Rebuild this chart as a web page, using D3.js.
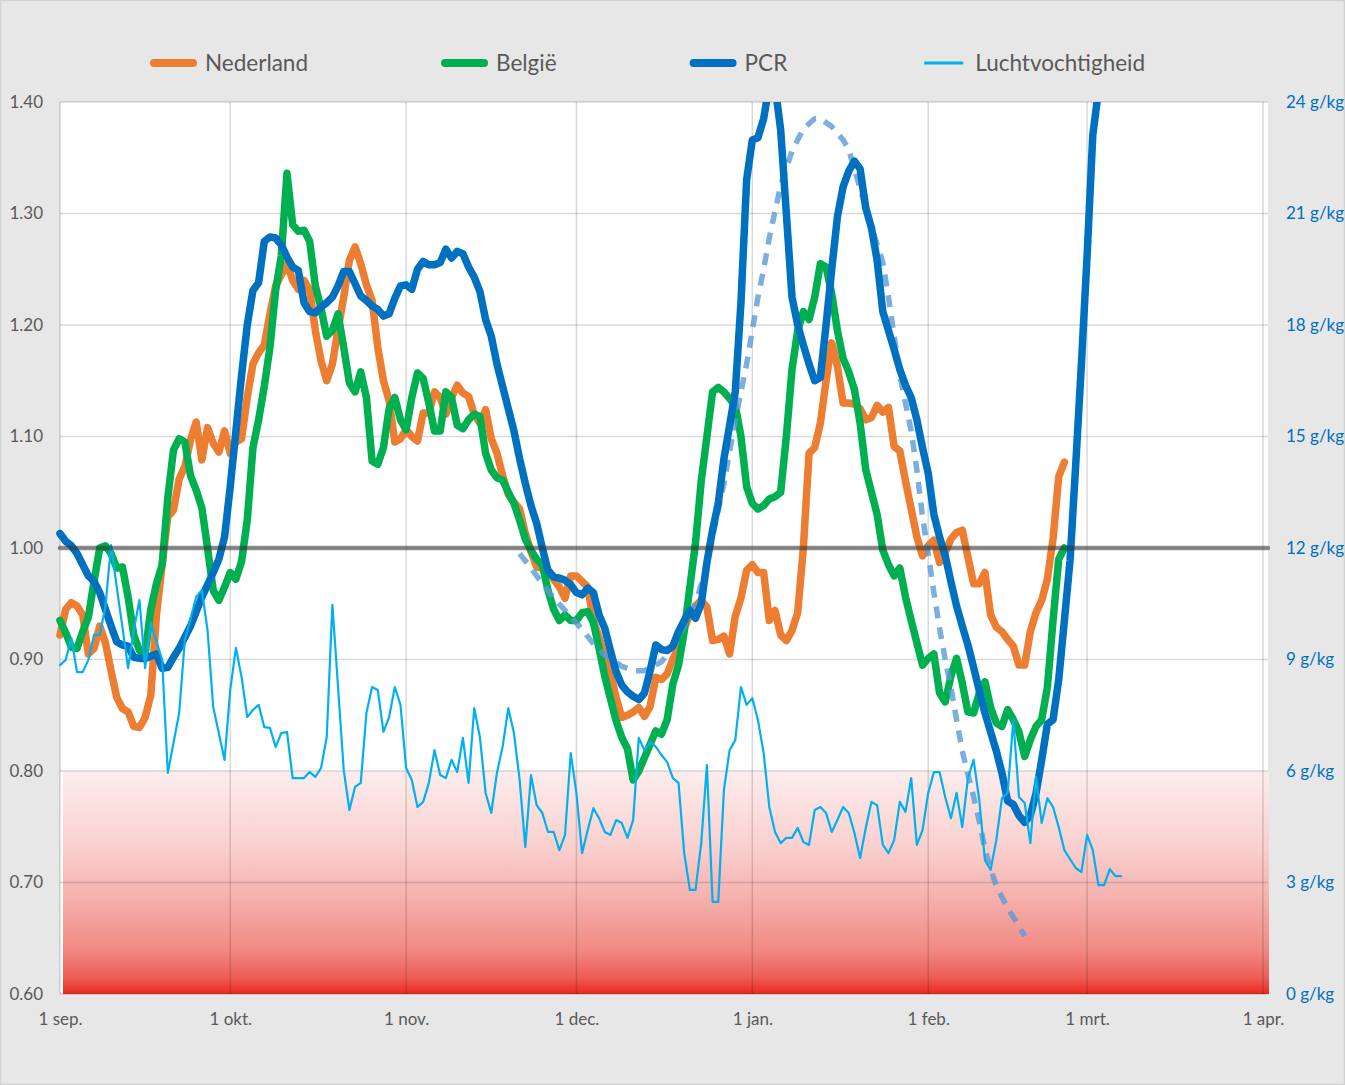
<!DOCTYPE html>
<html lang="nl">
<head>
<meta charset="UTF-8">
<title>Nederland, België, PCR en luchtvochtigheid</title>
<script src="https://d3js.org/d3.v7.min.js"></script>
<style>
  html, body { margin: 0; padding: 0; background: #e7e7e7; }
  body { font-family: Lato, "Open Sans", sans-serif; }
  #chart { width: 1345px; height: 1085px; }
  .tick text { font-family: Lato, "Open Sans", sans-serif; }
</style>
</head>
<body>
<div id="chart"></div>
<script>
// ---- data (day index = days since 1 sep. 2020) ----
const startDate = new Date(Date.UTC(2020, 8, 1));
const endDate = new Date(Date.UTC(2021, 3, 1));
const monthLabels = ["1 sep.", "1 okt.", "1 nov.", "1 dec.", "1 jan.", "1 feb.", "1 mrt.", "1 apr."];
const leftTicks = [0.6, 0.7, 0.8, 0.9, 1.0, 1.1, 1.2, 1.3, 1.4];
const rightTicks = [0, 3, 6, 9, 12, 15, 18, 21, 24];
const refLevel = 1.0;
const redZoneTop = 0.8;

// one value per day, starting 1 sep.
const nederland = [
  0.922, 0.945, 0.951, 0.948, 0.940, 0.905, 0.910, 0.930, 0.915, 0.890,
  0.866, 0.856, 0.853, 0.840, 0.839, 0.848, 0.868, 0.940, 0.985, 1.028,
  1.034, 1.062, 1.073, 1.097, 1.113, 1.079, 1.108, 1.094, 1.086, 1.105,
  1.085, 1.095, 1.098, 1.135, 1.165, 1.175, 1.182, 1.210, 1.235, 1.245,
  1.255, 1.240, 1.232, 1.240, 1.231, 1.195, 1.168, 1.150, 1.165, 1.196,
  1.225, 1.258, 1.270, 1.255, 1.236, 1.222, 1.180, 1.150, 1.132, 1.095,
  1.098, 1.106, 1.100, 1.096, 1.121, 1.121, 1.140, 1.135, 1.120, 1.135,
  1.146, 1.139, 1.136, 1.120, 1.112, 1.124, 1.098, 1.085, 1.065, 1.048,
  1.041, 1.035, 1.013, 0.997, 0.983, 0.982, 0.980, 0.972, 0.965, 0.955,
  0.975, 0.975, 0.970, 0.965, 0.935, 0.920, 0.902, 0.888, 0.866, 0.848,
  0.850, 0.853, 0.857, 0.849, 0.858, 0.884, 0.882, 0.887, 0.900, 0.912,
  0.928, 0.940, 0.948, 0.953, 0.947, 0.917, 0.918, 0.921, 0.905, 0.939,
  0.955, 0.980, 0.985, 0.978, 0.978, 0.935, 0.944, 0.922, 0.917, 0.926,
  0.942, 1.000, 1.085, 1.090, 1.112, 1.150, 1.184, 1.163, 1.130, 1.130,
  1.129, 1.125, 1.115, 1.117, 1.128, 1.122, 1.126, 1.091, 1.087, 1.060,
  1.035, 1.010, 0.993, 1.002, 1.007, 0.987, 0.996, 1.008, 1.014, 1.016,
  0.992, 0.968, 0.968, 0.978, 0.940, 0.929, 0.925, 0.918, 0.912, 0.895,
  0.895, 0.925, 0.942, 0.953, 0.972, 1.008, 1.064, 1.077
];

const belgie = [
  0.935, 0.924, 0.911, 0.910, 0.925, 0.938, 0.970, 1.000, 1.002, 0.995,
  0.982, 0.983, 0.956, 0.922, 0.908, 0.905, 0.945, 0.968, 0.985, 1.045,
  1.088, 1.098, 1.095, 1.065, 1.052, 1.036, 1.000, 0.962, 0.953, 0.965,
  0.978, 0.972, 0.988, 1.025, 1.090, 1.115, 1.145, 1.180, 1.231, 1.262,
  1.336, 1.290, 1.284, 1.285, 1.275, 1.235, 1.215, 1.190, 1.195, 1.210,
  1.180, 1.148, 1.140, 1.158, 1.135, 1.078, 1.075, 1.090, 1.125, 1.135,
  1.115, 1.106, 1.135, 1.157, 1.152, 1.130, 1.105, 1.105, 1.140, 1.135,
  1.110, 1.107, 1.115, 1.120, 1.118, 1.085, 1.070, 1.063, 1.061, 1.050,
  1.040, 1.025, 1.008, 0.998, 0.990, 0.985, 0.962, 0.945, 0.935, 0.940,
  0.935, 0.935, 0.942, 0.943, 0.933, 0.910, 0.885, 0.865, 0.845, 0.830,
  0.820, 0.792, 0.800, 0.812, 0.824, 0.836, 0.833, 0.846, 0.878, 0.895,
  0.925, 0.965, 1.005, 1.060, 1.100, 1.140, 1.144, 1.140, 1.134, 1.128,
  1.100, 1.055, 1.040, 1.035, 1.038, 1.044, 1.046, 1.050, 1.100, 1.160,
  1.195, 1.212, 1.205, 1.225, 1.255, 1.252, 1.228, 1.195, 1.170, 1.158,
  1.142, 1.112, 1.070, 1.050, 1.030, 0.998, 0.985, 0.975, 0.982, 0.956,
  0.935, 0.915, 0.895, 0.901, 0.905, 0.870, 0.862, 0.885, 0.901, 0.879,
  0.853, 0.852, 0.870, 0.880, 0.857, 0.843, 0.840, 0.855, 0.846, 0.835,
  0.813, 0.828, 0.840, 0.846, 0.875, 0.935, 0.990, 1.000
];

const pcr = [
  1.013, 1.006, 1.002, 0.995, 0.985, 0.975, 0.970, 0.960, 0.945, 0.930,
  0.916, 0.913, 0.912, 0.902, 0.901, 0.901, 0.903, 0.905, 0.892, 0.893,
  0.902, 0.910, 0.920, 0.930, 0.943, 0.956, 0.967, 0.978, 0.990, 1.010,
  1.055, 1.105, 1.155, 1.200, 1.231, 1.238, 1.275, 1.279, 1.278, 1.272,
  1.261, 1.252, 1.249, 1.220, 1.212, 1.211, 1.216, 1.220, 1.225, 1.235,
  1.248, 1.248, 1.237, 1.226, 1.222, 1.217, 1.214, 1.208, 1.210, 1.224,
  1.235, 1.236, 1.232, 1.250, 1.257, 1.254, 1.254, 1.256, 1.268, 1.260,
  1.266, 1.264, 1.252, 1.243, 1.230, 1.205, 1.190, 1.165, 1.145, 1.125,
  1.105, 1.080, 1.058, 1.038, 1.022, 1.000, 0.980, 0.974, 0.973, 0.971,
  0.967, 0.960, 0.958, 0.964, 0.960, 0.940, 0.928, 0.908, 0.889, 0.877,
  0.871, 0.867, 0.864, 0.870, 0.890, 0.913, 0.909, 0.908, 0.912, 0.925,
  0.935, 0.944, 0.937, 0.950, 0.987, 1.016, 1.040, 1.080, 1.110, 1.140,
  1.220, 1.330, 1.366, 1.368, 1.385, 1.415, 1.415, 1.375, 1.300, 1.225,
  1.200, 1.182, 1.165, 1.150, 1.153, 1.200, 1.250, 1.297, 1.324, 1.338,
  1.347, 1.340, 1.305, 1.287, 1.258, 1.212, 1.195, 1.178, 1.160, 1.146,
  1.135, 1.115, 1.090, 1.067, 1.030, 1.010, 0.993, 0.970, 0.948, 0.930,
  0.913, 0.893, 0.872, 0.852, 0.835, 0.818, 0.798, 0.773, 0.770, 0.760,
  0.754, 0.760, 0.780, 0.810, 0.842, 0.846, 0.882, 0.935, 0.989, 1.075,
  1.165, 1.262, 1.370, 1.410
];

// dashed curve: [day, value]
const trend = [
  [81, 0.995], [83, 0.982], [85, 0.968], [87, 0.955], [89, 0.944], [92, 0.927],
  [94, 0.914], [96, 0.904], [99, 0.894], [101, 0.890], [103, 0.890], [106, 0.898],
  [108, 0.911], [110, 0.930], [112, 0.950], [114, 0.985], [115, 1.010], [117, 1.058],
  [119, 1.115], [120, 1.140], [121, 1.165], [122, 1.195], [123, 1.225], [124, 1.250],
  [125, 1.278], [126, 1.302], [127, 1.325], [129, 1.356], [131, 1.376], [133, 1.385],
  [134, 1.385], [136, 1.378], [138, 1.366], [139, 1.357], [140, 1.340], [142, 1.305],
  [144, 1.272], [145, 1.256], [146, 1.225], [147, 1.190], [148, 1.155], [150, 1.105],
  [151, 1.070], [152, 1.028], [153, 0.995], [154, 0.960], [155, 0.928], [156, 0.900],
  [157, 0.875], [158, 0.846], [159, 0.818], [160, 0.797], [161, 0.777], [162, 0.755],
  [163, 0.730], [164, 0.712], [165, 0.697], [167, 0.677], [169, 0.661], [170, 0.652]
];

// Luchtvochtigheid in g/kg: [day, value]
const humidity = [
  [0, 8.85], [1, 8.99], [2, 9.58], [3, 8.66], [4, 8.66], [5, 8.99], [6, 9.66], [7, 9.66],
  [8, 10.41], [9, 12.08], [10, 10.95], [11, 9.87], [12, 8.77], [13, 9.79], [14, 10.6],
  [15, 8.77], [16, 9.98], [18, 8.99], [19, 5.95], [21, 7.56], [22, 9.52], [24, 10.68],
  [25, 10.87], [26, 9.79], [27, 7.72], [29, 6.3], [30, 8.18], [31, 9.31], [32, 8.53],
  [33, 7.45], [34, 7.64], [35, 7.78], [36, 7.18], [37, 7.16], [38, 6.65], [39, 7.02],
  [40, 7.05], [41, 5.81], [43, 5.81], [44, 5.97], [45, 5.84], [46, 6.08], [47, 6.91],
  [48, 10.47], [49, 8.26], [50, 6.03], [51, 4.95], [52, 5.57], [53, 5.68], [54, 7.56],
  [55, 8.26], [56, 8.18], [57, 7.05], [58, 7.45], [59, 8.26], [60, 7.78], [61, 6.08],
  [62, 5.76], [63, 5.03], [64, 5.17], [65, 5.68], [66, 6.56], [67, 5.89], [68, 5.81],
  [69, 6.3], [70, 5.97], [71, 6.89], [72, 5.68], [73, 7.69], [74, 6.91], [75, 5.41],
  [76, 4.87], [77, 5.95], [78, 6.65], [79, 7.69], [80, 7.02], [81, 5.76], [82, 3.95],
  [83, 5.89], [84, 5.08], [85, 4.87], [86, 4.36], [87, 4.36], [88, 3.87], [89, 4.28],
  [90, 6.48], [91, 5.41], [92, 3.79], [93, 4.41], [94, 5.0], [95, 4.73], [96, 4.36],
  [97, 4.28], [98, 4.68], [99, 4.6], [100, 4.2], [101, 4.68], [102, 6.89], [103, 6.56],
  [104, 6.78], [105, 6.65], [106, 6.43], [107, 6.24], [108, 5.81], [109, 5.68], [110, 3.79],
  [111, 2.8], [112, 2.8], [113, 4.06], [114, 6.16], [115, 2.48], [116, 2.48], [117, 5.49],
  [118, 6.56], [119, 6.83], [120, 8.26], [121, 7.78], [122, 7.96], [123, 7.37], [124, 6.48],
  [125, 5.03], [126, 4.36], [127, 4.06], [128, 4.2], [129, 4.2], [130, 4.47], [131, 4.09],
  [132, 4.01], [133, 4.95], [134, 5.03], [135, 4.87], [136, 4.36], [137, 4.68], [138, 5.03],
  [139, 4.87], [140, 4.33], [141, 3.66], [142, 4.47], [143, 5.17], [144, 5.08], [145, 4.01],
  [146, 3.79], [147, 4.14], [148, 5.17], [149, 4.9], [150, 5.81], [151, 4.01], [152, 4.41],
  [153, 5.41], [154, 5.97], [155, 5.97], [156, 5.3], [157, 4.73], [158, 5.41], [159, 4.49],
  [160, 5.81], [161, 6.3], [162, 5.22], [163, 3.6], [164, 3.34], [165, 4.14], [166, 5.27],
  [167, 5.41], [168, 7.37], [169, 5.3], [170, 5.14], [171, 4.06], [172, 5.84], [173, 4.6],
  [174, 5.27], [175, 5.03], [176, 4.49], [177, 3.87], [179, 3.39], [180, 3.28], [181, 4.28],
  [182, 3.87], [183, 2.93], [184, 2.93], [185, 3.36], [186, 3.17], [187, 3.17]
];

const legendItems = [
  { name: "Nederland", color: "#ed7d31", width: 8 },
  { name: "België", color: "#00b050", width: 8 },
  { name: "PCR", color: "#0070c0", width: 8 },
  { name: "Luchtvochtigheid", color: "#00b0f0", width: 3 }
];

// ---- layout ----
const W = 1345, H = 1085;
const plot = { left: 60, right: 1263, top: 102, bottom: 994, extra: 5 };

const svg = d3.select("#chart").append("svg")
  .attr("width", W).attr("height", H);

svg.append("rect").attr("x", 0.5).attr("y", 0.5)
  .attr("width", W - 1).attr("height", H - 1)
  .attr("fill", "#e7e7e7").attr("stroke", "#d2d2d2").attr("stroke-width", 1.5);

const day = i => d3.utcDay.offset(startDate, i);
const x = d3.scaleUtc().domain([startDate, endDate]).range([plot.left, plot.right]);
const yL = d3.scaleLinear().domain([0.6, 1.4]).range([plot.bottom, plot.top]);
const yR = d3.scaleLinear().domain([0, 24]).range([plot.bottom, plot.top]);
const monthDates = d3.utcMonth.range(startDate, d3.utcDay.offset(endDate, 1));

// plot background
svg.append("rect")
  .attr("x", plot.left).attr("y", plot.top)
  .attr("width", plot.right - plot.left + plot.extra)
  .attr("height", plot.bottom - plot.top)
  .attr("fill", "#ffffff");

// red zone gradient
const defs = svg.append("defs");
const grad = defs.append("linearGradient").attr("id", "redzone")
  .attr("x1", 0).attr("y1", 0).attr("x2", 0).attr("y2", 1);
[[0, "#fdeded"], [0.35, "#f9cfcd"], [0.55, "#f6b3b0"], [0.8, "#f18a84"], [0.93, "#ec5c54"], [1, "#e8271f"]]
  .forEach(([o, c]) => grad.append("stop").attr("offset", o).attr("stop-color", c));

svg.append("rect")
  .attr("x", plot.left + 3).attr("y", yL(redZoneTop))
  .attr("width", plot.right - plot.left + plot.extra - 2)
  .attr("height", yL(0.6) - yL(redZoneTop))
  .attr("fill", "url(#redzone)");

// gridlines
const grid = svg.append("g").attr("stroke", "rgba(0,0,0,0.15)").attr("stroke-width", 1.5);
grid.selectAll("line.h").data(leftTicks).join("line")
  .attr("x1", plot.left).attr("x2", plot.right + plot.extra)
  .attr("y1", d => yL(d)).attr("y2", d => yL(d));
grid.selectAll("line.v").data(monthDates).join("line")
  .attr("x1", d => x(d)).attr("x2", d => x(d))
  .attr("y1", plot.top).attr("y2", plot.bottom);

// axes
const leftAxis = svg.append("g")
  .attr("transform", `translate(${plot.left},0)`)
  .call(d3.axisLeft(yL).tickValues(leftTicks).tickFormat(d3.format(".2f")).tickSize(0).tickPadding(17));
const rightAxis = svg.append("g")
  .attr("transform", `translate(${plot.right},0)`)
  .call(d3.axisRight(yR).tickValues(rightTicks).tickFormat(d => d + " g/kg").tickSize(0).tickPadding(23));
const bottomAxis = svg.append("g")
  .attr("transform", `translate(0,${plot.bottom})`)
  .call(d3.axisBottom(x).tickValues(monthDates).tickFormat((d, i) => monthLabels[i]).tickSize(0).tickPadding(19));

[leftAxis, rightAxis, bottomAxis].forEach(a => a.select(".domain").remove());
leftAxis.selectAll("text").attr("fill", "#595959").style("font-size", "17px");
bottomAxis.selectAll("text").attr("fill", "#595959").style("font-size", "17px");
rightAxis.selectAll("text").attr("fill", "#0070c0").style("font-size", "17px");

// lines
defs.append("clipPath").attr("id", "plotclip").append("rect")
  .attr("x", plot.left - 10).attr("y", plot.top)
  .attr("width", plot.right - plot.left + 20).attr("height", plot.bottom - plot.top);

const g = svg.append("g").attr("clip-path", "url(#plotclip)");

const dailyLine = d3.line().x((d, i) => x(day(i))).y(d => yL(d));
const pairLine = scale => d3.line().x(d => x(day(d[0]))).y(d => scale(d[1]));

function thick(data, gen, color, w) {
  return g.append("path").datum(data)
    .attr("d", gen)
    .attr("fill", "none")
    .attr("stroke", color)
    .attr("stroke-width", w)
    .attr("stroke-linejoin", "round")
    .attr("stroke-linecap", "round");
}

thick(nederland, dailyLine, "#ed7d31", 7.5);
thick(belgie, dailyLine, "#00b050", 7.5);
thick(trend, pairLine(yL), "#5b9bd5", 5.5)
  .attr("stroke-opacity", 0.8)
  .attr("stroke-dasharray", "12 9")
  .attr("stroke-linecap", "butt");
thick(pcr, dailyLine, "#0070c0", 7.5);
thick(humidity, pairLine(yR), "#00b0f0", 2.2);

// reference line at 1.00
svg.append("line")
  .attr("x1", plot.left).attr("x2", plot.right + plot.extra)
  .attr("y1", yL(refLevel)).attr("y2", yL(refLevel))
  .attr("stroke", "rgba(50,50,50,0.55)")
  .attr("stroke-width", 4.5)
  .attr("stroke-linecap", "round");

// legend
const legend = svg.append("g").attr("transform", "translate(0,63)");
let lx = 150;
legendItems.forEach(item => {
  const it = legend.append("g");
  it.append("line")
    .attr("x1", lx + 4).attr("x2", lx + 43)
    .attr("stroke", item.color)
    .attr("stroke-width", item.width)
    .attr("stroke-linecap", item.width > 4 ? "round" : "butt");
  const t = it.append("text")
    .attr("x", lx + 55).attr("dy", "0.35em")
    .attr("fill", "#595959")
    .style("font-size", "22.5px")
    .text(item.name);
  lx += 55 + t.node().getComputedTextLength() + 133;
});
</script>
</body>
</html>
